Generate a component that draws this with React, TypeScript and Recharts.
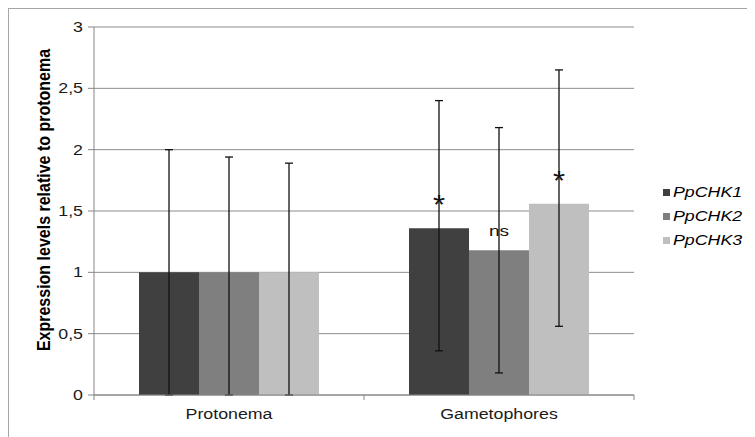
import { BarChart, Bar, XAxis, YAxis, CartesianGrid, ErrorBar, LabelList } from 'recharts';

const categories = ['Protonema', 'Gametophores'];
const seriesNames = ['PpCHK1', 'PpCHK2', 'PpCHK3'];
const seriesColors = ['#404040', '#7f7f7f', '#bfbfbf'];

const chk1 = [1, 1.36];
const chk2 = [1, 1.18];
const chk3 = [1, 1.56];

// [minus, plus]
const chk1Err = [[1, 1.0], [1.0, 1.04]];
const chk2Err = [[1, 0.94], [1.0, 1.0]];
const chk3Err = [[1, 0.89], [1.0, 1.09]];

const chk1Marks = ['', '*'];
const chk2Marks = ['', 'ns'];
const chk3Marks = ['', '*'];

const yTicks = [0, 0.5, 1, 1.5, 2, 2.5, 3];

const data = categories.map((name, i) => ({
  name,
  chk1: chk1[i],
  chk2: chk2[i],
  chk3: chk3[i],
  chk1Err: chk1Err[i],
  chk2Err: chk2Err[i],
  chk3Err: chk3Err[i],
  chk1Mark: chk1Marks[i],
  chk2Mark: chk2Marks[i],
  chk3Mark: chk3Marks[i],
}));

const FONT = 'Arial, "Liberation Sans", sans-serif';
const STRETCH = 1.27;

function YTick({ x, y, payload }: any) {
  return (
    <text
      transform={`translate(${x},${y}) scale(${STRETCH},1)`}
      textAnchor="end"
      dy={5}
      fontSize={14}
      fontFamily={FONT}
      fill="#1a1a1a"
    >
      {String(payload.value).replace('.', ',')}
    </text>
  );
}

function XTick({ x, y, payload, index }: any) {
  const half = payload.offset || 0;
  return (
    <g>
      {index === 0 && <line x1={x - half} x2={x - half} y1={y - 8} y2={y - 3} stroke="#868686" />}
      <line x1={x + half} x2={x + half} y1={y - 8} y2={y - 3} stroke="#868686" />
      <text
        transform={`translate(${x},${y + 16}) scale(${STRETCH},1)`}
        textAnchor="middle"
        fontSize={14}
        fontFamily={FONT}
        fill="#1a1a1a"
      >
        {payload.value}
      </text>
    </g>
  );
}

function Mark({ x, y, width, value }: any) {
  if (!value) return null;
  const star = value === '*';
  const cx = x + width / 2;
  const by = y - (star ? 14 : 14);
  return (
    <text
      transform={`translate(${cx},${by}) scale(${star ? 1.15 : STRETCH},1)`}
      textAnchor="middle"
      fontSize={star ? 27 : 15}
      fontFamily={FONT}
      fill="#111"
    >
      {value}
    </text>
  );
}

function YLabel({ viewBox }: any) {
  const cx = viewBox.x + 9;
  const cy = viewBox.y + viewBox.height / 2 - 11;
  return (
    <text
      transform={`translate(${cx},${cy}) rotate(-90) scale(1,1.15)`}
      textAnchor="middle"
      dy={6}
      fontSize={16}
      fontWeight="bold"
      fontFamily={FONT}
      fill="#000"
    >
      Expression levels relative to protonema
    </text>
  );
}

export default function App() {
  const keys = ['chk1', 'chk2', 'chk3'];
  return (
    <div
      style={{
        position: 'relative',
        width: 746,
        height: 428,
        borderTop: '1px solid #a6a6a6',
        borderLeft: '1px solid #a6a6a6',
        background: '#fff',
      }}
    >
      <BarChart
        width={746}
        height={428}
        data={data}
        margin={{ top: 18, right: 121, bottom: 12, left: 25 }}
        barCategoryGap="16.67%"
        barGap={0}
      >
        <CartesianGrid vertical={false} stroke="#8c8c8c" />
        <XAxis
          dataKey="name"
          height={30}
          stroke="#868686"
          tickLine={false}
          tick={<XTick />}
          interval={0}
        />
        <YAxis
          domain={[0, 3]}
          ticks={yTicks}
          width={60}
          stroke="#868686"
          tickSize={6}
          tickMargin={5}
          tick={<YTick />}
          label={<YLabel />}
          interval={0}
        />
        {keys.map((k, i) => (
          <Bar key={k} dataKey={k} fill={seriesColors[i]} isAnimationActive={false}>
            <ErrorBar dataKey={`${k}Err`} width={4} stroke="#111" strokeWidth={1.3} direction="y" />
            <LabelList dataKey={`${k}Mark`} content={<Mark />} />
          </Bar>
        ))}
      </BarChart>
      <div style={{ position: 'absolute', left: 654, top: 171 }}>
        {seriesNames.map((n, i) => (
          <div key={n} style={{ height: 24, display: 'flex', alignItems: 'center' }}>
            <span style={{ width: 7, height: 7, background: seriesColors[i], display: 'inline-block', marginRight: 3 }} />
            <span
              style={{
                fontFamily: FONT,
                fontStyle: 'italic',
                fontSize: 14,
                color: '#000',
                display: 'inline-block',
                transform: `scaleX(${STRETCH})`,
                transformOrigin: 'left center',
              }}
            >
              {n}
            </span>
          </div>
        ))}
      </div>
    </div>
  );
}
